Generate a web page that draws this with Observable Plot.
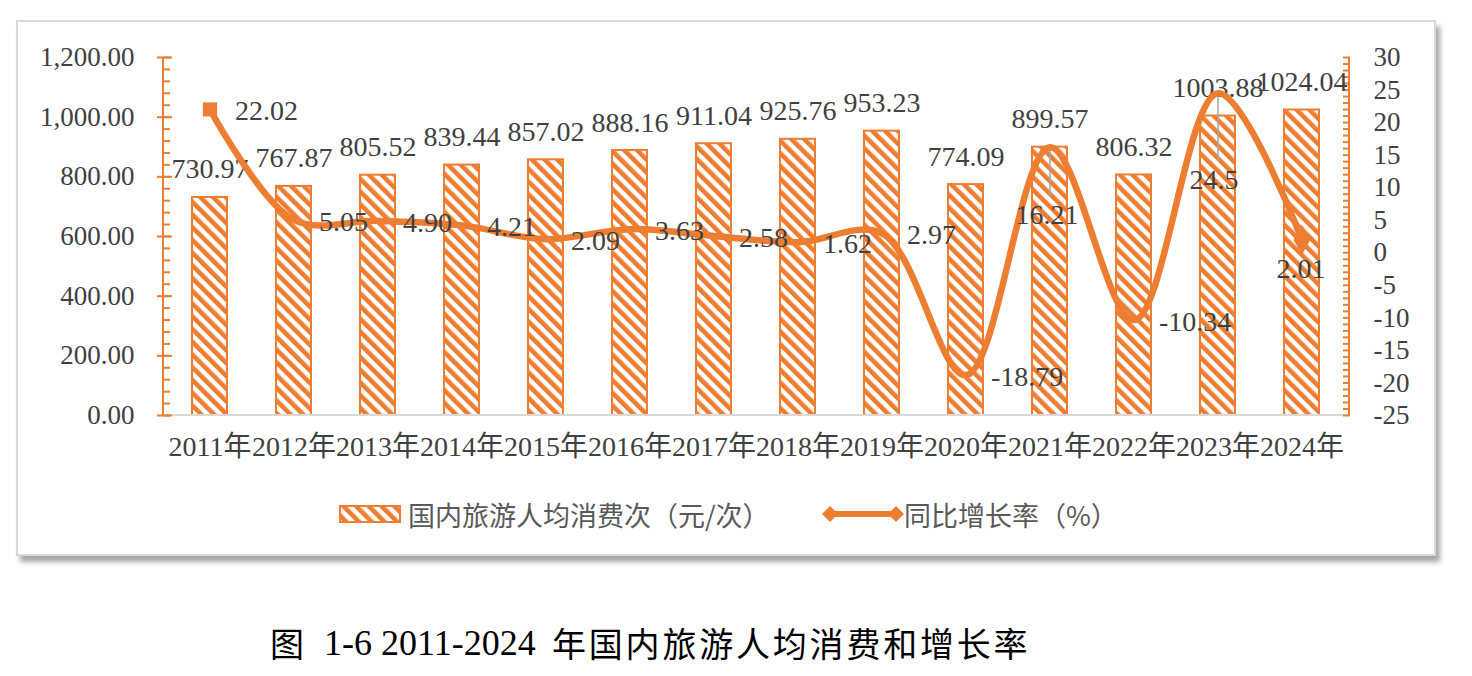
<!DOCTYPE html>
<html>
<head>
<meta charset="utf-8">
<script src="https://cdn.jsdelivr.net/npm/d3@7"></script>
<script src="https://cdn.jsdelivr.net/npm/@observablehq/plot@0.6"></script>
<style>
  html, body { margin: 0; padding: 0; background: #fff; }
  body { width: 1472px; height: 676px; position: relative; overflow: hidden; }
  #frame {
    position: absolute; left: 16px; top: 20px; width: 1420px; height: 536px;
    border: 2px solid #d9d9d9; box-sizing: border-box; background: #fff;
    box-shadow: 4px 6px 5px rgba(0,0,0,0.35);
  }
  #chart { position: absolute; left: 0; top: 0; }
  #chart svg { overflow: visible; }
  #legend {
    position: absolute; left: 0; top: 496px; width: 1472px; height: 36px;
    font-family: "Noto Sans CJK SC", sans-serif; font-size: 27px; color: #595959;
  }
  .lg { position: absolute; top: 0; display: flex; align-items: center; height: 36px; white-space: nowrap; }
  .tt { position: absolute; top: 620px; white-space: nowrap; line-height: 46px; color: #000; }
  .cjk { font-family: "Noto Sans CJK SC", sans-serif; font-size: 34px; letter-spacing: 2.8px; }
  .num { font-family: "Liberation Serif", serif; font-size: 36px; }
</style>
</head>
<body>
<svg width="0" height="0" style="position:absolute">
  <defs>
    <pattern id="hatch" patternUnits="userSpaceOnUse" width="9" height="9" patternTransform="rotate(-45)">
      <rect width="9" height="9" fill="#ffffff"></rect>
      <rect width="4.6" height="9" fill="#ED7D31"></rect>
    </pattern>
  </defs>
</svg>
<div id="frame"></div>
<div id="chart"></div>
<div id="legend">
  <div class="lg" style="left:339px">
    <svg width="62" height="18" style="margin-right:7px"><rect x="1" y="1" width="60" height="16" fill="url(#hatch)" stroke="#ED7D31" stroke-width="2"></rect></svg>
    <span>国内旅游人均消费次（元/次）</span>
  </div>
  <div class="lg" style="left:822px">
    <svg width="82" height="24">
      <line x1="8" y1="12" x2="74" y2="12" stroke="#ED7D31" stroke-width="6"></line>
      <path d="M0,12 L8,4 L16,12 L8,20 Z" fill="#ED7D31"></path>
      <path d="M66,12 L74,4 L82,12 L74,20 Z" fill="#ED7D31"></path>
    </svg>
    <span>同比增长率（%）</span>
  </div>
</div>
<div class="tt cjk" style="left:270px">图</div>
<div class="tt num" style="left:324px">1-6 2011-2024</div>
<div class="tt cjk" style="left:552px">年国内旅游人均消费和增长率</div>
<script>
// ---- data ----
const years = ["2011年","2012年","2013年","2014年","2015年","2016年","2017年","2018年","2019年","2020年","2021年","2022年","2023年","2024年"];
const spending = [730.97, 767.87, 805.52, 839.44, 857.02, 888.16, 911.04, 925.76, 953.23, 774.09, 899.57, 806.32, 1003.88, 1024.04];
const growth = [22.02, 5.05, 4.90, 4.21, 2.09, 3.63, 2.58, 1.62, 2.97, -18.79, 16.21, -10.34, 24.5, 2.01];
const growthLabels = ["22.02","5.05","4.90","4.21","2.09","3.63","2.58","1.62","2.97","-18.79","16.21","-10.34","24.5","2.01"];
const leftTicks = [0, 200, 400, 600, 800, 1000, 1200];
const rightTicks = [-25, -20, -15, -10, -5, 0, 5, 10, 15, 20, 25, 30];

// ---- build ----
const orange = "#ED7D31";
const textColor = "#404040";
const leftMax = 1200, rMin = -25, rMax = 30;
const toLeft = v => (v - rMin) * leftMax / (rMax - rMin);
const fromLeft = y => Math.round(y * (rMax - rMin) / leftMax + rMin);

const rows = years.map((y, i) => ({year: y, spend: spending[i], g: growth[i], gy: toLeft(growth[i]), gl: growthLabels[i]}));
const belowLabel = {"2021年": [-3, 68], "2023年": [-4, 87], "2024年": [-1, 29]};
const rightRows = rows.filter(d => !(d.year in belowLabel));

const serif = "Liberation Serif, Noto Sans CJK SC, serif";

const axisLines = (index, scales, values, dims) => {
  const g = d3.create("svg:g");
  const x0 = dims.marginLeft, x1 = dims.width - dims.marginRight;
  const y0 = dims.marginTop, y1 = dims.height - dims.marginBottom;
  g.append("line").attr("x1", x0).attr("x2", x1).attr("y1", y1).attr("y2", y1).attr("stroke", "#d9d9d9").attr("stroke-width", 2);
  g.append("line").attr("x1", x0).attr("x2", x0).attr("y1", y0).attr("y2", y1 + 1).attr("stroke", orange).attr("stroke-width", 2);
  g.append("line").attr("x1", x1).attr("x2", x1).attr("y1", y0).attr("y2", y1 + 1).attr("stroke", orange).attr("stroke-width", 2);
  return g.node();
};

const marks = [
  Plot.barY(rows, {x: "year", y: "spend", fill: "url(#hatch)", stroke: orange, strokeWidth: 2}),
  axisLines,
  // left axis: minor ticks inward, major ticks crossing, labels
  Plot.axisY({anchor: "left", ticks: d3.range(0, 1201, 40), tickSize: -7, tickFormat: () => "", stroke: orange, strokeWidth: 2}),
  Plot.axisY({anchor: "left", ticks: leftTicks, tickSize: 6, tickFormat: () => "", stroke: orange, strokeWidth: 2}),
  Plot.axisY({anchor: "left", ticks: leftTicks, tickSize: -9, tickFormat: () => "", stroke: orange, strokeWidth: 2}),
  Plot.axisY({anchor: "left", ticks: leftTicks, tickSize: 0, tickPadding: 29, tickFormat: d3.format(",.2f"),
    fontSize: 27, fontFamily: serif, fill: textColor}),
  // right axis
  Plot.axisY({anchor: "right", ticks: d3.range(rMin, rMax + 1, 1).map(toLeft), tickSize: -7, tickFormat: () => "", stroke: orange, strokeWidth: 2}),
  Plot.axisY({anchor: "right", ticks: rightTicks.map(toLeft), tickSize: 0, tickPadding: 24, tickFormat: d => String(fromLeft(d)),
    fontSize: 27, fontFamily: serif, fill: textColor, textAnchor: "start"}),
  // x axis
  Plot.axisX({anchor: "bottom", tickSize: 0, tickPadding: 21, label: null, fontSize: 28, fontFamily: serif, fill: textColor}),
  // bar labels
  Plot.text(rows, {x: "year", y: "spend", text: d => d.spend.toFixed(2), dy: -28, fontSize: 28, fontFamily: serif, fill: textColor}),
  // leader lines
  Plot.ruleX(rows.filter(d => d.year === "2021年"), {x: "year", y1: "gy", y2: "gy", insetBottom: -50, stroke: "#a6a6a6", strokeWidth: 1.5}),
  Plot.ruleX(rows.filter(d => d.year === "2023年"), {x: "year", y1: "gy", y2: "gy", insetBottom: -68, stroke: "#a6a6a6", strokeWidth: 1.5}),
  // growth line
  Plot.line(rows, {x: "year", y: "gy", curve: "catmull-rom", stroke: orange, strokeWidth: 6.5}),
  Plot.dot(rows.slice(0, 1), {x: "year", y: "gy", symbol: "square", r: 8, fill: orange}),
  Plot.dot(rows.slice(-1), {x: "year", y: "gy", symbol: "diamond", r: 9, fill: orange}),
  // growth labels
  Plot.text(rightRows, {x: "year", y: "gy", text: "gl", dx: 25, dy: 2, textAnchor: "start", fontSize: 28, fontFamily: serif, fill: textColor}),
  ...Object.entries(belowLabel).map(([yr, [dx, dy]]) =>
    Plot.text(rows.filter(d => d.year === yr), {x: "year", y: "gy", text: "gl", dx, dy, fontSize: 28, fontFamily: serif, fill: textColor}))
];

const chart = Plot.plot({
  width: 1472,
  height: 480,
  marginTop: 57,
  marginBottom: 65,
  marginLeft: 163,
  marginRight: 123,
  style: {background: "transparent", overflow: "visible"},
  x: {domain: years, paddingInner: 0.58, paddingOuter: 0.29, axis: null},
  y: {domain: [0, leftMax], axis: null},
  marks
});
document.getElementById("chart").appendChild(chart);
</script>
</body>
</html>
